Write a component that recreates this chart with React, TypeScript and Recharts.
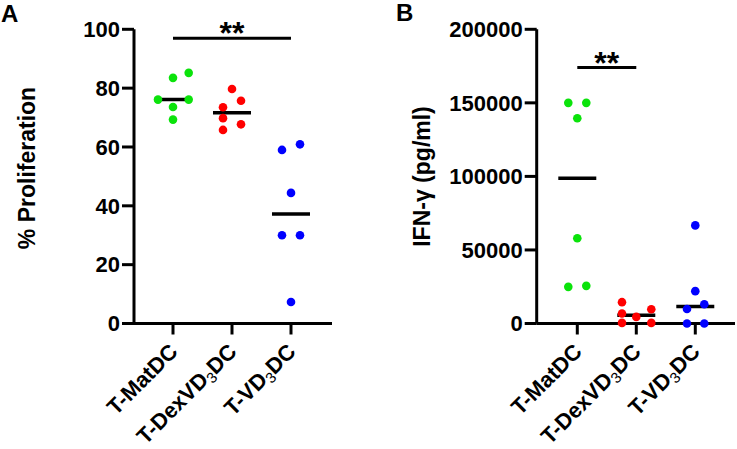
import React from 'react';
import { ScatterChart, Scatter, XAxis, YAxis, ReferenceLine } from 'recharts';

// ---------- data ----------
const groups = ['T-MatDC', 'T-DexVD3DC', 'T-VD3DC'];
const groupColors = ['#0be30b', '#ff0000', '#0000ff'];

const prolifMatDC = [76.1, 73.6, 69.3, 83.5, 85.2, 76.1];
const prolifDexVD3DC = [79.7, 73.5, 75.7, 69.8, 67.7, 65.8];
const prolifVD3DC = [59.0, 60.9, 44.4, 30.0, 30.0, 7.3];

const ifnMatDC = [150000, 150000, 139500, 58000, 24900, 25600];
const ifnDexVD3DC = [14500, 6800, 4500, 9700, 400, 400];
const ifnVD3DC = [66700, 22000, 13100, 9900, 0, 0];

const prolifTicks = [0, 20, 40, 60, 80, 100];
const ifnTicks = [0, 50000, 100000, 150000, 200000];

const sigA = { from: 0, to: 2, y: 97, text: '**' };
const sigB = { from: 0, to: 1, y: 174000, text: '**' };

// ---------- layout (swarm offsets in px, not data) ----------
const swarmA = [
  [-15, 0, 0, 0, 15.7, 15.7],
  [0, -9, 9, -9, 9, -9],
  [-9, 9, 0, -9, 9, 0],
];
const swarmB = [
  [-9, 9, 0, 0, -9, 9],
  [-14.3, -14.3, 0, 15, -14.3, 15],
  [0, 0, 9, -8.3, -8.3, 9],
];

const FONT = '"Liberation Sans", Arial, Helvetica, sans-serif';

const median = (arr: number[]) => {
  const s = [...arr].sort((a, b) => a - b);
  const n = s.length;
  return n % 2 ? s[(n - 1) / 2] : (s[n / 2 - 1] + s[n / 2]) / 2;
};

const buildPoints = (vals: number[], gi: number, swarm: number[][]) =>
  vals.map((v, i) => ({ x: gi, y: v, dx: swarm[gi][i] }));

const CategoryTick = (props: any) => {
  const { x, y, payload } = props;
  const name = groups[payload.value] ?? '';
  const parts = name.split(/(\d)/).filter((p: string) => p.length > 0);
  return (
    <g transform={`translate(${x + 6},${y + 16.5}) rotate(-45)`}>
      <text x={0} y={0} textAnchor="end" fontSize={22} fontWeight="bold" fill="#000" fontFamily={FONT}>
        {parts.map((p: string, i: number) =>
          /\d/.test(p) ? (
            <tspan key={i} fontSize={15} fontWeight="normal" dy={4}>
              {p}
            </tspan>
          ) : (
            <tspan key={i} dy={i > 0 && /\d/.test(parts[i - 1]) ? -4 : 0}>
              {p}
            </tspan>
          )
        )}
      </text>
    </g>
  );
};

const AxisTitle = ({ tx, ty, text }: { tx: number; ty: number; text: string }) => (
  <text
    x={tx}
    y={ty}
    transform={`rotate(-90 ${tx} ${ty})`}
    textAnchor="middle"
    fontSize={23}
    fontWeight="bold"
    fill="#000"
    fontFamily={FONT}
  >
    {text}
  </text>
);

const dotShape = (color: string) => (p: any) => (
  <circle cx={p.cx + (p.payload?.dx ?? 0)} cy={p.cy} r={4.3} fill={color} />
);

const medianShape = (p: any) => (
  <line x1={p.cx - 19} x2={p.cx + 19} y1={p.cy} y2={p.cy} stroke="#000" strokeWidth={3.5} />
);

const starShape = (text: string) => (p: any) => (
  <text x={p.cx} y={p.cy + 6} textAnchor="middle" fontSize={32} fontWeight="bold" fill="#000" fontFamily={FONT}>
    {text}
  </text>
);

const tickStyle = { fontSize: 22, fontWeight: 'bold', fill: '#000', fontFamily: FONT };
const axisLine = { stroke: '#000', strokeWidth: 3 };

type PanelProps = {
  width: number;
  yAxisWidth: number;
  rightMargin: number;
  xDomain: [number, number];
  yDomain: [number, number];
  yTicks: number[];
  series: number[][];
  swarm: number[][];
  sig: { from: number; to: number; y: number; text: string };
  title: string;
  titleX: number;
  titleY: number;
};

const Panel = (pp: PanelProps) => {
  const medians = pp.series.map((vals, gi) => ({ x: gi, y: median(vals) }));
  return (
    <ScatterChart
      width={pp.width}
      height={449}
      margin={{ top: 29.3, right: pp.rightMargin, bottom: 0, left: 0 }}
    >
      <XAxis
        type="number"
        dataKey="x"
        domain={pp.xDomain}
        ticks={[0, 1, 2]}
        interval={0}
        tick={<CategoryTick />}
        tickLine={axisLine}
        axisLine={axisLine}
        tickSize={11}
        height={125.5}
      />
      <YAxis
        type="number"
        dataKey="y"
        domain={pp.yDomain}
        ticks={pp.yTicks}
        interval={0}
        tick={tickStyle}
        tickLine={axisLine}
        axisLine={axisLine}
        tickSize={12}
        width={pp.yAxisWidth}
        label={<AxisTitle tx={pp.titleX} ty={pp.titleY} text={pp.title} />}
      />
      <ReferenceLine
        segment={[
          { x: pp.sig.from, y: pp.sig.y },
          { x: pp.sig.to, y: pp.sig.y },
        ]}
        stroke="#000"
        strokeWidth={3}
      />
      <Scatter data={medians} shape={medianShape} isAnimationActive={false} />
      {pp.series.map((vals, gi) => (
        <Scatter
          key={gi}
          data={buildPoints(vals, gi, pp.swarm)}
          shape={dotShape(groupColors[gi])}
          isAnimationActive={false}
        />
      ))}
      <Scatter
        data={[{ x: (pp.sig.from + pp.sig.to) / 2, y: pp.sig.y }]}
        shape={starShape(pp.sig.text)}
        isAnimationActive={false}
      />
    </ScatterChart>
  );
};

export default function App() {
  return (
    <div style={{ position: 'absolute', left: 0, top: 0, width: 737, height: 449, background: '#fff', overflow: 'hidden' }}>
      <div style={{ position: 'absolute', left: 0, top: 0 }}>
        <Panel
          width={370}
          yAxisWidth={134}
          rightMargin={38}
          xDomain={[-0.661, 2.695]}
          yDomain={[0, 100]}
          yTicks={prolifTicks}
          series={[prolifMatDC, prolifDexVD3DC, prolifVD3DC]}
          swarm={swarmA}
          sig={sigA}
          title="% Proliferation"
          titleX={35}
          titleY={168}
        />
      </div>
      <div style={{ position: 'absolute', left: 370, top: 0 }}>
        <Panel
          width={367}
          yAxisWidth={166.7}
          rightMargin={2}
          xDomain={[-0.688, 2.673]}
          yDomain={[0, 200000]}
          yTicks={ifnTicks}
          series={[ifnMatDC, ifnDexVD3DC, ifnVD3DC]}
          swarm={swarmB}
          sig={sigB}
          title="IFN-γ (pg/ml)"
          titleX={60}
          titleY={176.5}
        />
      </div>
      <svg width={737} height={449} style={{ position: 'absolute', left: 0, top: 0, pointerEvents: 'none' }}>
        <text x={1} y={22} fontSize={24} fontWeight="bold" fill="#000" fontFamily={FONT}>A</text>
        <text x={396} y={21} fontSize={24} fontWeight="bold" fill="#000" fontFamily={FONT}>B</text>
      </svg>
    </div>
  );
}
